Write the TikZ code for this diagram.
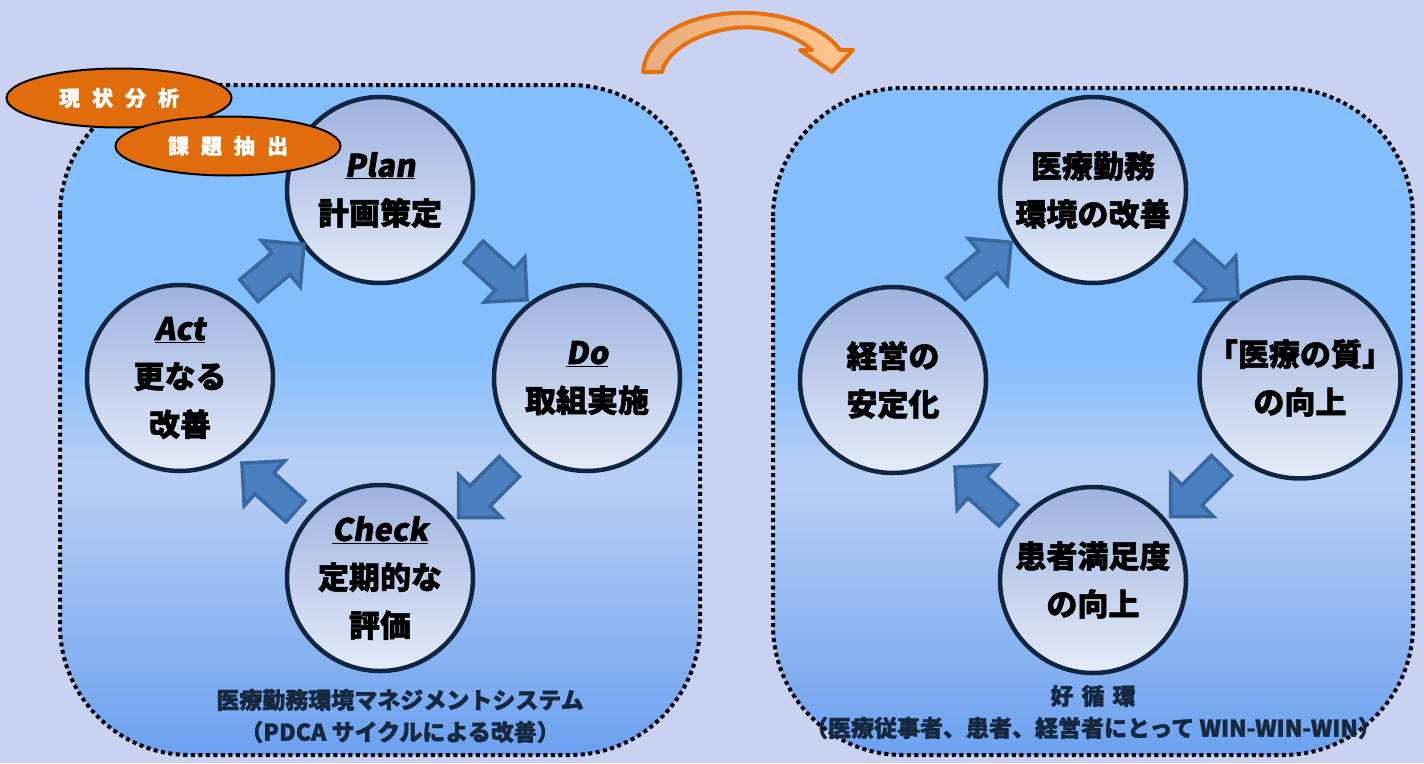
\documentclass[tikz,border=0pt]{standalone}
\usepackage{fontspec}
\setmainfont{Noto Sans CJK JP}[BoldFeatures={FakeBold=1.6}]
\newfontfamily\slantjp{Noto Sans CJK JP}[FakeSlant=0.16,BoldFeatures={FakeBold=1.6}]
\usetikzlibrary{shapes.arrows,shapes.geometric}
\definecolor{bgcol}{HTML}{C9D3F1}
\definecolor{pnltop}{HTML}{84BEFC}
\definecolor{pnlmid}{HTML}{B9CFF4}
\definecolor{pnlbot}{HTML}{6CA1F0}
\definecolor{circtop}{HTML}{9DB2DF}
\definecolor{circbot}{HTML}{E4EBF8}
\definecolor{rimcol}{HTML}{0F2540}
\definecolor{arrfill}{HTML}{4A80C0}
\definecolor{arrdraw}{HTML}{39679F}
\definecolor{ovalcol}{HTML}{E06C0C}
\definecolor{capcol}{HTML}{16283F}
\definecolor{bendcol}{HTML}{E8700F}
\pgfdeclareverticalshading{panelshade}{100bp}{color(0bp)=(pnlbot); color(25bp)=(pnlbot); color(46bp)=(pnlmid); color(55bp)=(pnltop); color(75bp)=(pnltop); color(100bp)=(pnltop)}
\tikzset{
  panel/.style={shading=panelshade,draw=black,line width=4pt,dash pattern=on 4pt off 3.5pt,rounded corners=130pt},
  cyc/.style={circle,minimum size=186pt,inner sep=0pt,top color=circtop,bottom color=circbot,draw=rimcol,line width=4.5pt,align=center,font=\bfseries\fontsize{31}{48}\selectfont},
  blk/.style={single arrow,minimum height=72pt,minimum width=57pt,single arrow head extend=16pt,inner xsep=0pt,inner ysep=12.5pt,fill=arrfill,draw=arrdraw,line width=3.5pt},
  oval/.style={ellipse,minimum width=225pt,minimum height=59pt,fill=ovalcol,draw=black,line width=2pt,text=white,font=\bfseries\fontsize{21}{24}\selectfont},
  captext/.style={text=capcol,align=center,font=\bfseries\fontsize{23}{32}\selectfont},
}
\newcommand{\head}[1]{\underline{\slantjp\bfseries #1}}
\begin{document}
\begin{tikzpicture}[x=1pt,y=-1pt]
\useasboundingbox (0,0) rectangle (1424,763);
\fill[bgcol] (0,0) rectangle (1424,763);
%%
\path[panel] (60,85) rectangle (700,755);
\path[panel] (773,88) rectangle (1413,755);
%% bend arrow
\draw[bendcol,line width=4pt,line join=round,left color=bendcol!55!brown!60!white,right color=orange!45!white]
  (643,72) -- (662,72) .. controls (670,35) and (760,5) .. (812,50) -- (800,50) -- (832,72) -- (853,50) -- (840,50) .. controls (800,-5) and (650,0) .. (643,72) -- cycle;
%% PDCA
\node (plan) at (380,190) [cyc] {\head{Plan}\\計画策定};
\node (do) at (587,378) [cyc] {\head{Do}\\取組実施};
\node (check) at (380,578) [cyc] {\head{Check}\\定期的な\\評価};
\node (act) at (180,378) [cyc] {\head{Act}\\更なる\\改善};
\node (a_ap) at (271,272) [blk,rotate=40] {};
\node (a_pd) at (495,271) [blk,rotate=-42] {};
\node (a_dc) at (489,487) [blk,rotate=-135] {};
\node (a_ca) at (274,492) [blk,rotate=138] {};
\node (oval_1) at (119,98) [oval] {現\kern12pt 状\kern12pt 分\kern12pt 析};
\node (oval_2) at (228,146) [oval] {課\kern12pt 題\kern12pt 抽\kern12pt 出};
\node (cap_l) at (400,716) [captext] {医療勤務環境マネジメントシステム\\（PDCA サイクルによる改善）};
%% good cycle
\node (env) at (1093,190) [cyc] {医療勤務\\環境の改善};
\node (qual) at (1300,378) [cyc] {「医療の質」\\の向上};
\node (sat) at (1093,580) [cyc] {患者満足度\\の向上};
\node (mgmt) at (893,380) [cyc] {経営の\\安定化};
\node (b_me) at (978,270) [blk,rotate=40] {};
\node (b_eq) at (1206,270) [blk,rotate=-42] {};
\node (b_qs) at (1201,486) [blk,rotate=-135] {};
\node (b_sm) at (987,496) [blk,rotate=138] {};
\node (cap_r) at (1093,712) [captext] {好\kern8pt 循\kern8pt 環\\（医療従事者、患者、経営者にとって WIN-WIN-WIN）};
%
\end{tikzpicture}
\end{document}
